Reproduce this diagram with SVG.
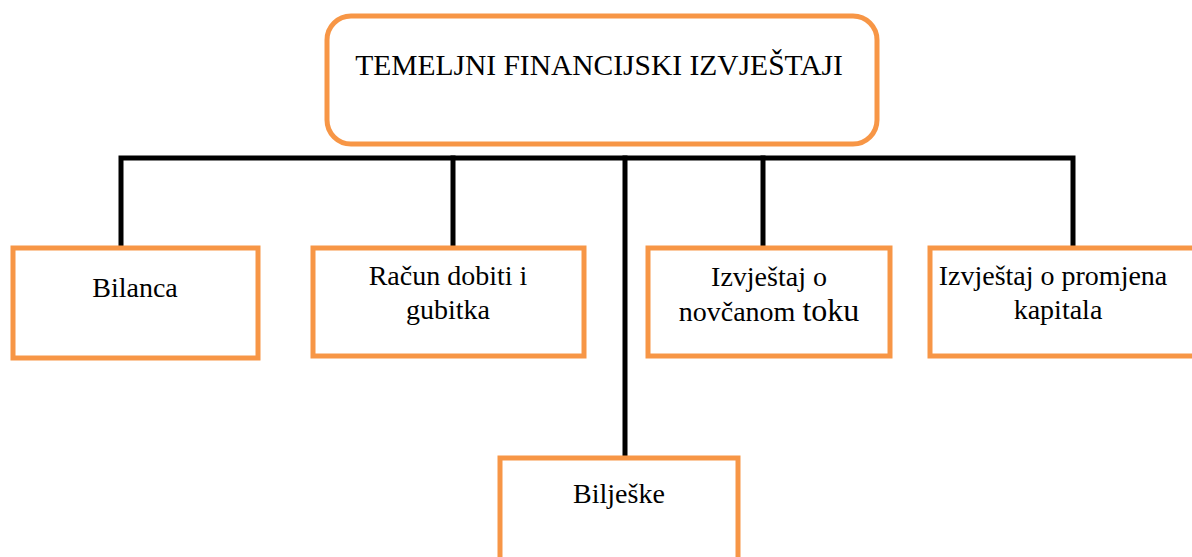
<svg xmlns="http://www.w3.org/2000/svg" width="1192" height="557" viewBox="0 0 1192 557">
<style>
.box{fill:#fff;stroke:#F79646;stroke-width:5}
.conn{stroke:#000;stroke-width:5;fill:none;stroke-linecap:square}
.t{font-family:"Liberation Serif","Times New Roman",serif;font-size:28px;fill:#000;text-anchor:middle}
.title{font-size:29.5px}
</style>
<rect width="1192" height="557" fill="#fff"/>
<g id="connectors">
<polyline class="conn" points="121,246 121,158 1073,158 1073,246"/>
<line class="conn" x1="453" y1="158" x2="453" y2="246"/>
<line class="conn" x1="625" y1="158" x2="625" y2="456"/>
<line class="conn" x1="763" y1="158" x2="763" y2="246"/>
</g>
<g id="root">
<rect class="box" x="327" y="16" width="550" height="128" rx="24"/>
<text class="t title" x="599" y="75">TEMELJNI FINANCIJSKI IZVJEŠTAJI</text>
</g>
<g id="bilanca">
<rect class="box" x="13" y="248" width="245" height="110"/>
<text class="t" x="135" y="297">Bilanca</text>
</g>
<g id="racun">
<rect class="box" x="313" y="248" width="271" height="108"/>
<text class="t" x="448" y="285">Račun dobiti i</text>
<text class="t" x="448" y="319">gubitka</text>
</g>
<g id="novcani">
<rect class="box" x="648" y="248" width="242" height="108"/>
<text class="t" x="769" y="286">Izvještaj o</text>
<text class="t" x="769" y="321">novčanom <tspan style="font-size:32px">toku</tspan></text>
</g>
<g id="kapital">
<rect class="box" x="930" y="248" width="270" height="108"/>
<text class="t" x="1053" y="285">Izvještaj o promjena</text>
<text class="t" x="1058" y="319">kapitala</text>
</g>
<g id="biljeske">
<rect class="box" x="500" y="458" width="238" height="110"/>
<text class="t" x="619" y="503">Bilješke</text>
</g>
</svg>
